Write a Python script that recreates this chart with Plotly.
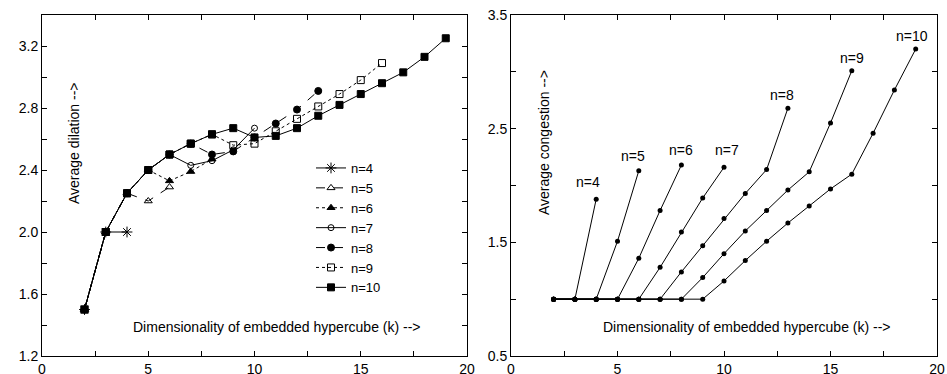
import plotly.graph_objects as go

# ---------------- data ----------------
n_labels = ["n=4", "n=5", "n=6", "n=7", "n=8", "n=9", "n=10"]

k_n4 = [2, 3, 4]
k_n5 = [2, 3, 4, 5, 6]
k_n6 = [2, 3, 4, 5, 6, 7, 8]
k_n7 = [2, 3, 4, 5, 6, 7, 8, 9, 10]
k_n8 = [2, 3, 4, 5, 6, 7, 8, 9, 10, 11, 12, 13]
k_n9 = [2, 3, 4, 5, 6, 7, 8, 9, 10, 11, 12, 13, 14, 15, 16]
k_n10 = [2, 3, 4, 5, 6, 7, 8, 9, 10, 11, 12, 13, 14, 15, 16, 17, 18, 19]

dil_n4 = [1.5, 2.0, 2.0]
dil_n5 = [1.5, 2.0, 2.25, 2.20, 2.29]
dil_n6 = [1.5, 2.0, 2.25, 2.40, 2.33, 2.39, 2.47]
dil_n7 = [1.5, 2.0, 2.25, 2.40, 2.50, 2.43, 2.46, 2.53, 2.67]
dil_n8 = [1.5, 2.0, 2.25, 2.40, 2.50, 2.57, 2.50, 2.52, 2.61, 2.70, 2.79, 2.91]
dil_n9 = [1.5, 2.0, 2.25, 2.40, 2.50, 2.57, 2.63, 2.56, 2.57, 2.65, 2.73, 2.81, 2.89, 2.98, 3.09]
dil_n10 = [1.5, 2.0, 2.25, 2.40, 2.50, 2.57, 2.63, 2.67, 2.61, 2.62, 2.67, 2.75, 2.82, 2.89,
           2.96, 3.03, 3.13, 3.25]

con_n4 = [1.0, 1.0, 1.88]
con_n5 = [1.0, 1.0, 1.0, 1.51, 2.13]
con_n6 = [1.0, 1.0, 1.0, 1.0, 1.36, 1.78, 2.18]
con_n7 = [1.0, 1.0, 1.0, 1.0, 1.0, 1.28, 1.59, 1.89, 2.16]
con_n8 = [1.0, 1.0, 1.0, 1.0, 1.0, 1.0, 1.24, 1.47, 1.71, 1.93, 2.14, 2.68]
con_n9 = [1.0, 1.0, 1.0, 1.0, 1.0, 1.0, 1.0, 1.19, 1.40, 1.60, 1.78, 1.96, 2.12, 2.55, 3.01]
con_n10 = [1.0, 1.0, 1.0, 1.0, 1.0, 1.0, 1.0, 1.0, 1.16, 1.34, 1.51, 1.67, 1.82, 1.97,
           2.10, 2.46, 2.84, 3.20]

x_tick_vals = [0, 2.5, 5, 7.5, 10, 12.5, 15, 17.5, 20]
x_tick_text = ["0", "", "5", "", "10", "", "15", "", "20"]
dil_tick_vals = [1.2, 1.4, 1.6, 1.8, 2.0, 2.2, 2.4, 2.6, 2.8, 3.0, 3.2, 3.4]
dil_tick_text = ["1.2", "", "1.6", "", "2.0", "", "2.4", "", "2.8", "", "3.2", ""]
con_tick_vals = [0.5, 1.0, 1.5, 2.0, 2.5, 3.0, 3.5]
con_tick_text = ["0.5", "", "1.5", "", "2.5", "", "3.5"]

# ---------------- styles ----------------
ks = [k_n4, k_n5, k_n6, k_n7, k_n8, k_n9, k_n10]
dils = [dil_n4, dil_n5, dil_n6, dil_n7, dil_n8, dil_n9, dil_n10]
cons = [con_n4, con_n5, con_n6, con_n7, con_n8, con_n9, con_n10]
symbols = ["asterisk-open", "triangle-up-open", "triangle-up", "circle-open",
           "circle", "square-open", "square"]
sizes = [9, 7, 7, 6, 7, 7, 7]
dashes = ["solid", "dash", "dot", "solid", "dash", "dot", "solid"]
label_xshift = [-8, -6, 0, 3, -6, 0, -4]
label_yshift = [17, 15, 15, 17, 13, 13, 13]

FONT = "Liberation Sans, Arial, sans-serif"
FS = 14
fig = go.Figure()

for i in range(7):
    fig.add_trace(go.Scatter(
        x=ks[i], y=dils[i], name=n_labels[i], mode="lines+markers",
        line=dict(color="black", width=1, dash=dashes[i]),
        marker=dict(symbol=symbols[i], size=sizes[i], color="black",
                    line=dict(color="black", width=1)),
        xaxis="x", yaxis="y", showlegend=True))

for i in range(7):
    fig.add_trace(go.Scatter(
        x=ks[i], y=cons[i], mode="lines+markers",
        line=dict(color="black", width=1),
        marker=dict(symbol="circle", size=5, color="black"),
        xaxis="x2", yaxis="y2", showlegend=False))
    fig.add_annotation(x=ks[i][-1], y=cons[i][-1], xref="x2", yref="y2",
                       text=n_labels[i], showarrow=False,
                       xanchor="center", yanchor="middle",
                       xshift=label_xshift[i], yshift=label_yshift[i],
                       font=dict(family=FONT, size=FS, color="black"))

axis_common = dict(showline=True, linecolor="black", linewidth=1, mirror="ticks",
                   ticks="inside", ticklen=5, tickcolor="black", showgrid=False,
                   zeroline=False, automargin=False,
                   tickfont=dict(family=FONT, size=FS, color="black"))

fig.update_layout(
    width=947, height=374,
    margin=dict(l=0, r=0, t=0, b=0, autoexpand=False),
    paper_bgcolor="white", plot_bgcolor="white",
    font=dict(family=FONT, size=FS, color="black"),
    xaxis=dict(domain=[42 / 947, 467 / 947], range=[0, 20], tickvals=x_tick_vals,
               ticktext=x_tick_text, anchor="y", **axis_common),
    yaxis=dict(domain=[1 - 356 / 374, 1 - 15 / 374], range=[1.2, 3.4],
               tickvals=dil_tick_vals, ticktext=dil_tick_text, anchor="x", **axis_common),
    xaxis2=dict(domain=[511 / 947, 937 / 947], range=[0, 20], tickvals=x_tick_vals,
                ticktext=x_tick_text, anchor="y2", **axis_common),
    yaxis2=dict(domain=[1 - 356 / 374, 1 - 15 / 374], range=[0.5, 3.5],
                tickvals=con_tick_vals, ticktext=con_tick_text, anchor="x2", **axis_common),
    legend=dict(x=311 / 947, y=1 - 153 / 374, xanchor="left", yanchor="top",
                bgcolor="rgba(0,0,0,0)", font=dict(family=FONT, size=13),
                tracegroupgap=0, itemwidth=30),
    showlegend=True,
)

# axis titles placed inside the plotting areas
for cx in (277, 747):
    fig.add_annotation(x=cx / 947, y=1 - 327 / 374, xref="paper", yref="paper",
                       xanchor="center", yanchor="middle",
                       text="Dimensionality of embedded hypercube (k) -->", showarrow=False,
                       font=dict(family=FONT, size=FS, color="black"))
fig.add_annotation(x=74 / 947, y=1 - 143 / 374, xref="paper", yref="paper",
                   xanchor="center", yanchor="middle",
                   text="Average dilation -->", textangle=-90, showarrow=False,
                   font=dict(family=FONT, size=FS, color="black"))
fig.add_annotation(x=544 / 947, y=1 - 143 / 374, xref="paper", yref="paper",
                   xanchor="center", yanchor="middle",
                   text="Average congestion -->", textangle=-90, showarrow=False,
                   font=dict(family=FONT, size=FS, color="black"))

fig.write_html("out.html",
               config={"displayModeBar": False},
               post_script="document.body.style.margin='0';"
                           "document.body.style.overflow='hidden';")
